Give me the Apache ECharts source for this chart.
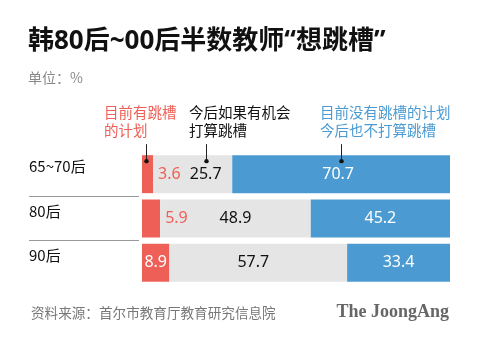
<!DOCTYPE html>
<html><head><meta charset="utf-8">
<script src="https://cdn.jsdelivr.net/npm/echarts@6/dist/echarts.min.js"></script>
<style>html,body{margin:0;padding:0;background:#fff}#c{width:480px;height:342px}</style>
</head><body><div id="c"></div>
<script>
// ---- data ----
const categories = ['65~70后', '80后', '90后'];
const planNow = [3.6, 5.9, 8.9];        // 目前有跳槽的计划
const ifChance = [25.7, 48.9, 57.7];    // 今后如果有机会打算跳槽
const noPlan = [70.7, 45.2, 33.4];      // 目前没有跳槽的计划 今后也不打算跳槽
const seriesNames = ['目前有跳槽\n的计划', '今后如果有机会\n打算跳槽', '目前没有跳槽的计划\n今后也不打算跳槽'];
const titleText = '韩80后~00后半数教师“想跳槽”';
const unitText = '单位：%';
const sourceText = '资料来源：首尔市教育厅教育研究信息院';
const logoText = 'The JoongAng';

// ---- styles ----
const RED = '#EE6057', GRAY = '#E5E5E5', BLUE = '#4B9BD2';
const CJK = '"Noto Sans CJK SC", "Noto Sans", sans-serif';
const NUM = '"Noto Sans", "Open Sans", sans-serif';

const chart = echarts.init(document.getElementById('c'), null, {renderer: 'canvas'});

const baseLabel = {show: true, fontFamily: NUM, fontSize: 16, formatter: p => p.value.toFixed(1)};

const option = {
  animation: false,
  backgroundColor: '#fff',
  grid: [
    {left: 142, right: 30, top: 152, height: 133},
    {left: 29, width: 110, top: 152, height: 133}
  ],
  xAxis: [
    {type: 'value', min: 0, max: 100, show: false, gridIndex: 0},
    {type: 'value', min: 0, max: 100, show: false, gridIndex: 1}
  ],
  yAxis: [
    {type: 'category', data: categories, inverse: true, show: false, gridIndex: 0},
    {type: 'category', data: categories, inverse: true, gridIndex: 1,
     axisLine: {show: false}, axisTick: {show: false},
     splitLine: {show: true, showMinLine: false, showMaxLine: false, lineStyle: {color: '#9a9a9a', width: 1}},
     axisLabel: {inside: true, margin: 0, align: 'left', verticalAlign: 'bottom',
       fontFamily: CJK, fontSize: 15, color: '#111'}}
  ],
  series: [
    {name: seriesNames[0], type: 'bar', stack: 'a', barWidth: 38, itemStyle: {color: RED},
     data: planNow.map((v, i) => ({value: v, label: i < 2
       ? Object.assign({}, baseLabel, {position: 'right', distance: 5, color: RED})
       : Object.assign({}, baseLabel, {position: 'inside', color: '#fff'})}))},
    {name: seriesNames[1], type: 'bar', stack: 'a', barWidth: 38, itemStyle: {color: GRAY},
     data: ifChance.map((v, i) => ({value: v, label: Object.assign({}, baseLabel, {position: 'inside', color: '#111',
       offset: i === 0 ? [13, 0] : (i === 2 ? [-5, 0] : [0, 0])})}))},
    {name: seriesNames[2], type: 'bar', stack: 'a', barWidth: 38, itemStyle: {color: BLUE},
     data: noPlan.map((v, i) => ({value: v, label: Object.assign({}, baseLabel, {position: 'inside', color: '#fff',
       offset: i === 0 ? [-3, 0] : [0, 0]})}))}
  ],
  graphic: [
    {type: 'text', left: 28, top: 29, style: {text: titleText, font: 'bold 26px "Noto Sans", "Noto Sans CJK SC", sans-serif', fill: '#111'}},
    {type: 'text', left: 28, top: 71, style: {text: unitText, font: '14px ' + CJK, fill: '#888'}},
    {type: 'text', left: 31, top: 306, style: {text: sourceText, font: '13.6px ' + CJK, fill: '#777'}},
    {type: 'text', right: 31, top: 303, style: {text: logoText, font: 'bold 18px "Liberation Serif", "DejaVu Serif", serif', fill: '#666'}}
  ]
};
chart.setOption(option);

// ---- annotations pointing at row 1 segments ----
const cy = chart.convertToPixel({yAxisIndex: 0}, categories[0]);
const anchorVals = [1.2, 20.7, 64.5];
const annColors = [RED, '#111', BLUE];
const annLeft = [104, 189, 320];
const g = [];
anchorVals.forEach((a, i) => {
  const x = Math.round(chart.convertToPixel({xAxisIndex: 0}, a)) + 0.5;
  g.push({type: 'line', shape: {x1: x, y1: cy - 30, x2: x, y2: cy - 13}, style: {stroke: '#222', lineWidth: 1}, z: 100});
  g.push({type: 'circle', shape: {cx: x, cy: cy - 13, r: 2.2}, style: {fill: '#111'}, z: 101});
  g.push({type: 'text', x: annLeft[i], y: 103, z: 100,
    style: {text: seriesNames[i], font: '14.5px ' + CJK, fill: annColors[i], lineHeight: 18}});
});
chart.setOption({graphic: option.graphic.concat(g)});
</script></body></html>
